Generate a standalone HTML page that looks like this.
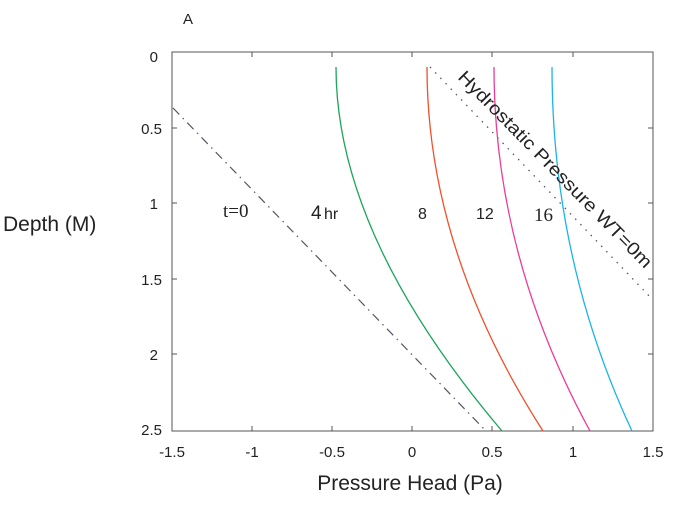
<!DOCTYPE html>
<html><head><style>
body{margin:0;background:#fff;width:677px;height:504px;overflow:hidden}
text{font-family:"Liberation Sans",sans-serif;fill:#222}
</style></head><body>
<svg width="677" height="504" viewBox="0 0 677 504">
<rect x="172" y="52" width="481" height="379" fill="none" stroke="#555" stroke-width="1"/>
<g stroke="#555" stroke-width="1">
<line x1="252" y1="52" x2="252" y2="57"/><line x1="332" y1="52" x2="332" y2="57"/><line x1="412" y1="52" x2="412" y2="57"/><line x1="492" y1="52" x2="492" y2="57"/><line x1="573" y1="52" x2="573" y2="57"/>
<line x1="252" y1="431" x2="252" y2="426"/><line x1="332" y1="431" x2="332" y2="426"/><line x1="412" y1="431" x2="412" y2="426"/><line x1="492" y1="431" x2="492" y2="426"/><line x1="573" y1="431" x2="573" y2="426"/>
<line x1="172" y1="128" x2="177" y2="128"/><line x1="172" y1="203" x2="177" y2="203"/><line x1="172" y1="279" x2="177" y2="279"/><line x1="172" y1="354" x2="177" y2="354"/>
<line x1="653" y1="128" x2="648" y2="128"/><line x1="653" y1="203" x2="648" y2="203"/><line x1="653" y1="279" x2="648" y2="279"/><line x1="653" y1="354" x2="648" y2="354"/>
</g>
<g font-size="15" text-anchor="middle">
<text x="172" y="457">-1.5</text><text x="252" y="457">-1</text><text x="332" y="457">-0.5</text><text x="412" y="457">0</text><text x="492" y="457">0.5</text><text x="573" y="457">1</text><text x="653" y="457">1.5</text>
</g>
<g font-size="15" text-anchor="end">
<text x="158" y="62">0</text><text x="162" y="134">0.5</text><text x="158" y="209">1</text><text x="162" y="285">1.5</text><text x="158" y="360">2</text><text x="162" y="435">2.5</text>
</g>
<text x="410" y="490" font-size="21" text-anchor="middle">Pressure Head (Pa)</text>
<text x="3" y="231" font-size="21">Depth (M)</text>
<text x="183" y="24" font-size="15">A</text>
<path d="M173,108 L486,431" stroke="#556" stroke-width="1.2" fill="none" stroke-dasharray="9,5,1.5,5"/>
<path d="M430,67 L653,300" stroke="#556" stroke-width="1.3" fill="none" stroke-dasharray="1.5,6"/>
<path d="M336,67 Q336,235 502,431" stroke="#1aa55a" stroke-width="1.3" fill="none"/>
<path d="M427,67 Q427,250 543,431" stroke="#f0502a" stroke-width="1.3" fill="none"/>
<path d="M494,67 Q494,255 590,431" stroke="#ec3c96" stroke-width="1.3" fill="none"/>
<path d="M552,67 Q552,260 632,431" stroke="#1bb4ea" stroke-width="1.3" fill="none"/>
<text x="223" y="217" font-size="19" style="font-family:'Liberation Serif',serif">t=0</text>
<text x="311" y="219" font-size="19">4</text><text x="324" y="219" font-size="16">hr</text>
<text x="418" y="219" font-size="16">8</text>
<text x="476" y="219" font-size="16">12</text>
<text x="534" y="221" font-size="19" style="font-family:'Liberation Serif',serif">16</text>
<text font-size="18" textLength="268" lengthAdjust="spacingAndGlyphs" transform="translate(457,78) rotate(45.5)">Hydrostatic Pressure WT=0m</text>
</svg>
</body></html>
